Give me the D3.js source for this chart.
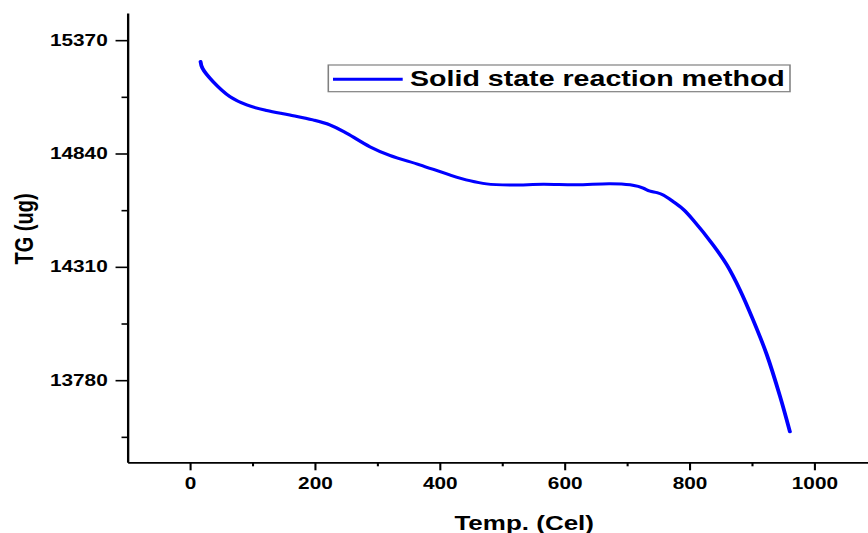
<!DOCTYPE html>
<html>
<head>
<meta charset="utf-8">
<script src="https://cdn.jsdelivr.net/npm/d3@7"></script>
<style>
  html, body { margin: 0; padding: 0; background: #ffffff; }
  svg { display: block; }
  text { font-family: "Liberation Sans", Arial, sans-serif; font-weight: bold; fill: #000; }
</style>
</head>
<body>
<svg id="chart" width="868" height="533"></svg>
<script>
// ---- data ----
const temperature = [17, 20, 37, 64, 91, 123, 160, 197, 224, 251, 288, 320, 368, 416, 448, 475, 513, 566, 619, 673, 705, 718, 726, 737, 748, 758, 774, 790, 806, 838, 860, 881, 902, 924, 945, 961];
const tgValues = [15270, 15239, 15176, 15106, 15067, 15041, 15020, 14997, 14974, 14935, 14872, 14831, 14787, 14740, 14713, 14698, 14693, 14696, 14694, 14699, 14694, 14686, 14678, 14664, 14657, 14646, 14615, 14579, 14529, 14412, 14319, 14202, 14062, 13899, 13706, 13539];
const xMajorTicks = [0, 200, 400, 600, 800, 1000];
const xMinorTicks = [100, 300, 500, 700, 900];
const yMajorTicks = [15370, 14840, 14310, 13780];
const yMinorTicks = [15105, 14575, 14045, 13515];
const seriesName = "Solid state reaction method";
const xTitle = "Temp. (Cel)";
const yTitle = "TG (ug)";

// ---- layout (the figure is horizontally stretched) ----
const SX = 1.3;
const svg = d3.select("#chart");
const g = svg.append("g").attr("transform", `scale(${SX},1)`);

const x = d3.scaleLinear().domain([-100, 1100]).range([127.5 / SX, 876.7 / SX]);
const y = d3.scaleLinear().domain([13396, 15497]).range([462.3, 13]);

const axisStroke = 1.8;

// X axis
const xAxisG = g.append("g").attr("transform", `translate(0,${y.range()[0]})`);
xAxisG.call(d3.axisBottom(x).tickValues(xMajorTicks).tickSize(8).tickSizeOuter(0).tickPadding(7.4).tickFormat(d3.format("d")));
const xMinorG = g.append("g").attr("transform", `translate(0,${y.range()[0]})`);
xMinorG.call(d3.axisBottom(x).tickValues(xMinorTicks).tickSize(4).tickSizeOuter(0).tickFormat(""));
xMinorG.select(".domain").remove();

// Y axis
const yAxisG = g.append("g").attr("transform", `translate(${x.range()[0]},0)`);
yAxisG.call(d3.axisLeft(y).tickValues(yMajorTicks).tickSize(9.2).tickSizeOuter(0).tickPadding(6).tickFormat(d3.format("d")));
const yMinorG = g.append("g").attr("transform", `translate(${x.range()[0]},0)`);
yMinorG.call(d3.axisLeft(y).tickValues(yMinorTicks).tickSize(4.6).tickSizeOuter(0).tickFormat(""));
yMinorG.select(".domain").remove();

g.selectAll(".domain").attr("stroke", "#000").attr("stroke-width", axisStroke);
g.selectAll(".tick line").attr("stroke", "#000").attr("stroke-width", 1.6);
g.selectAll(".tick text")
  .style("font-family", '"Liberation Sans", Arial, sans-serif')
  .style("font-weight", "bold")
  .style("font-size", "16px")
  .attr("fill", "#000");

// Curve
const pts = temperature.map((t, i) => [t, tgValues[i]]);
const line = d3.line().x(d => x(d[0])).y(d => y(d[1])).curve(d3.curveCatmullRom.alpha(0.5));
g.append("path")
  .datum(pts)
  .attr("d", line)
  .attr("fill", "none")
  .attr("stroke", "#0000ff")
  .attr("stroke-width", 3)
  .attr("stroke-linecap", "round")
  .attr("stroke-linejoin", "round");

// Legend
const legend = g.append("g");
legend.append("rect")
  .attr("x", 328.3 / SX).attr("y", 65)
  .attr("width", (790 - 328.3) / SX).attr("height", 26.7)
  .attr("fill", "#fff").attr("stroke", "#808080").attr("stroke-width", 1.2);
legend.append("line")
  .attr("x1", 333 / SX).attr("x2", 402.7 / SX)
  .attr("y1", 79.3).attr("y2", 79.3)
  .attr("stroke", "#0000ff").attr("stroke-width", 3);
legend.append("text")
  .attr("x", 410 / SX).attr("y", 86.3)
  .style("font-size", "22px")
  .text(seriesName);

// Axis titles
g.append("text")
  .attr("x", 524.2 / SX).attr("y", 530)
  .attr("text-anchor", "middle")
  .style("font-size", "20px")
  .text(xTitle);

g.append("text")
  .attr("transform", `translate(${33 / SX},229) rotate(-90)`)
  .attr("text-anchor", "middle")
  .style("font-size", "20px")
  .text(yTitle);
</script>
</body>
</html>
